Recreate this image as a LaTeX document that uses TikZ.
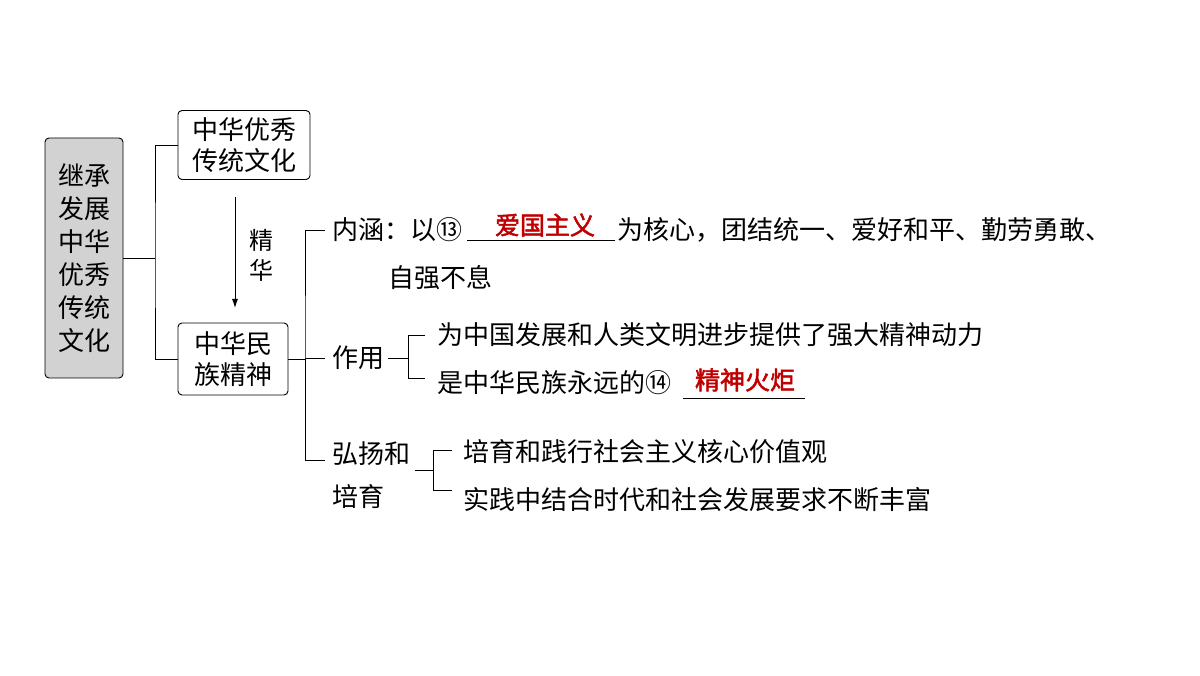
\documentclass[tikz,border=0pt]{standalone}
\usepackage{fontspec}
\usetikzlibrary{arrows.meta}
\setmainfont{Noto Sans CJK SC}
\newfontfamily\cjkbold[FakeBold=2]{Noto Sans CJK SC}
\definecolor{answer}{RGB}{192,0,0}
\begin{document}
\begin{tikzpicture}[x=1pt,y=-1pt,
  box/.style={draw,rounded corners=4pt,line width=0.9pt,align=center,font=\fontsize{26}{31}\selectfont,inner sep=0pt},
  txt/.style={anchor=west,font=\fontsize{26}{43}\selectfont,inner sep=0pt},
  ans/.style={font=\cjkbold\fontsize{25}{30}\selectfont,text=answer,inner sep=0pt},
  line/.style={line width=0.9pt}]
\useasboundingbox (0,0) rectangle (1200,676);
% left title
\node [box, fill=gray!35, minimum width=78pt, minimum height=240pt, font=\fontsize{26}{33}\selectfont] (root) at (84,258) {继承\\发展\\中华\\优秀\\传统\\文化};
\node [box, minimum width=132pt, minimum height=69pt] (trad) at (244,145) {中华优秀\\传统文化};
\node [box, minimum width=110pt, minimum height=72pt] (spirit) at (233,359) {中华民\\族精神};
\draw [line] (root.east) -- (155,258);
\draw [line] (trad.west) -| (155,258) |- (spirit.west);
\draw [line,-{Latex[length=9pt,width=6pt]}] (235,197) -- (235,308);
\node [txt, align=center, anchor=center, font=\fontsize{24}{30}\selectfont] (jh) at (261,255) {精\\华};
% branches of spirit
\coordinate (b) at (305,359);
\draw [line] (spirit.east) -- (b);
\node [txt] (nh) at (332,230) {内涵：以⑬};
\node [txt] (zy) at (332,358) {作用};
\node [txt, align=left] (hy) at (332,475) {弘扬和\\培育};
\draw [line] (nh.west) ++(-7,0) coordinate (n1) -| (b) |- ([xshift=-7pt]zy.west);
\draw [line] (b) |- (325,460);
% content
\draw [line] (467,240) -- (615,240);
\node [ans] (a13) at (545,225) {爱国主义};
\node [txt] (nh2) at (617,230) {为核心，团结统一、爱好和平、勤劳勇敢、};
\node [txt] (nh3) at (388,278) {自强不息};
\node [txt] (zy1) at (437,335) {为中国发展和人类文明进步提供了强大精神动力};
\node [txt] (zy2) at (437,383) {是中华民族永远的⑭};
\draw [line] (683,398) -- (805,398);
\node [ans] (a14) at (745,380) {精神火炬};
\draw [line] (zy.east) ++(4,0) -- (408,358);
\draw [line] (425,335) -| (408,378) -- (425,378);
\node [txt] (hy1) at (463,452) {培育和践行社会主义核心价值观};
\node [txt] (hy2) at (463,500) {实践中结合时代和社会发展要求不断丰富};
\draw [line] (415,470) -- (433,470);
\draw [line] (452,450) -| (433,490) -- (452,490);
\end{tikzpicture}
\end{document}
